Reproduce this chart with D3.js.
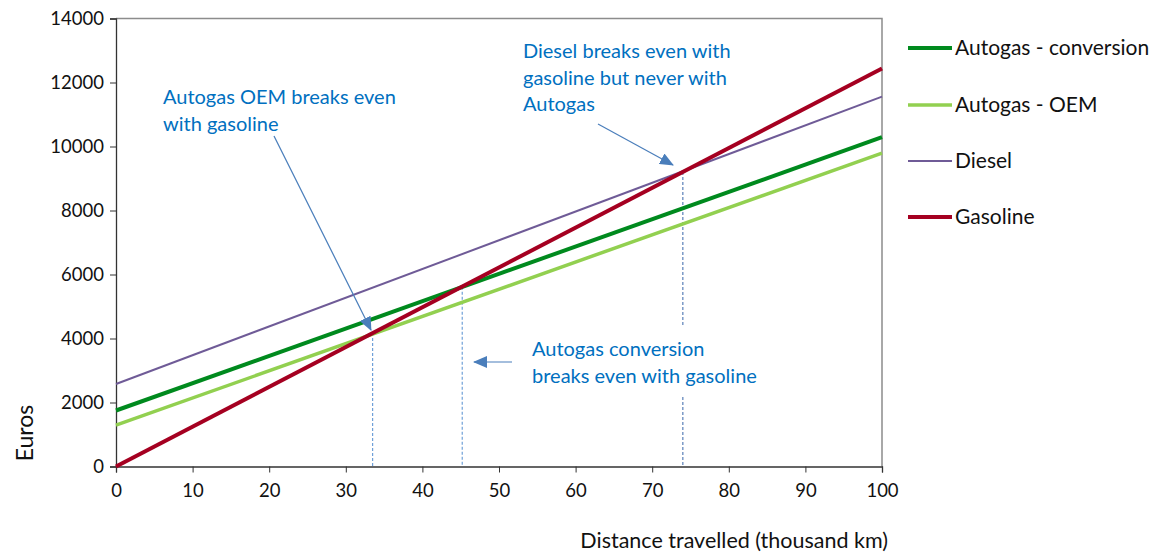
<!DOCTYPE html>
<html><head><meta charset="utf-8">
<script src="https://cdn.jsdelivr.net/npm/d3@7"></script>
<style>body{margin:0;background:#fff}svg{display:block}text{font-family:Lato,"Open Sans",sans-serif}</style>
</head><body><svg id="c" width="1158" height="553"></svg>
<script>
const distances = [0, 100];
const autogasConversion = [1750, 10290];
const autogasOEM = [1290, 9790];
const diesel = [2580, 11560];
const gasoline = [0, 12440];
const seriesNames = ["Autogas - conversion", "Autogas - OEM", "Diesel", "Gasoline"];
const seriesColors = ["#008A1E", "#92D050", "#6F5B97", "#A50021"];
const seriesWidths = [4, 3.5, 2, 4];
const xTicks = [0,10,20,30,40,50,60,70,80,90,100];
const yTicks = [0,2000,4000,6000,8000,10000,12000,14000];
const breakEvens = [33.5, 45.2, 74.0];
const breakEvenValues = [4170, 5620, 9200];

const svg = d3.select("#c");
const x = d3.scaleLinear().domain([0,100]).range([116,882]);
const y = d3.scaleLinear().domain([0,14000]).range([466.5,18.5]);

svg.append("path").attr("d",`M${x(0)},${y(14000)}H${x(100)}V${y(0)}`).attr("fill","none").attr("stroke","#8c8c8c").attr("stroke-width",1.5);

const fs = 18.5;
const yAx = svg.append("g").attr("transform",`translate(${x(0)},0)`).call(d3.axisLeft(y).tickValues(yTicks).tickSize(6).tickPadding(6).tickFormat(d3.format("d")));
const xAx = svg.append("g").attr("transform",`translate(0,${y(0)})`).call(d3.axisBottom(x).tickValues(xTicks).tickSize(6).tickPadding(11));
[yAx,xAx].forEach(g=>{g.attr("font-size",fs).attr("font-family","Lato");g.selectAll("path").attr("stroke","#333").attr("stroke-width",1.3);g.selectAll("line").attr("stroke","#333");g.selectAll("text").attr("fill","#111");});

const dashColors = ["#6FA0D8","#6FA0D8","#5A7FB8"];
const series = [autogasConversion, autogasOEM, diesel, gasoline];
breakEvens.forEach((b,i)=>{
  svg.append("line").attr("x1",x(b)).attr("x2",x(b)).attr("y1",y(breakEvenValues[i])).attr("y2",y(0))
    .attr("stroke",dashColors[i]).attr("stroke-width",1.2).attr("stroke-dasharray","3,2");
});

const line = d3.line().x((d,i)=>x(distances[i])).y(d=>y(d));
series.forEach((s,i)=>{
  svg.append("path").attr("d",line(s)).attr("fill","none").attr("stroke",seriesColors[i]).attr("stroke-width",seriesWidths[i]);
});

const legY = [48,105,161,217];
seriesNames.forEach((n,i)=>{
  svg.append("line").attr("x1",908).attr("x2",952).attr("y1",legY[i]).attr("y2",legY[i]).attr("stroke",seriesColors[i]).attr("stroke-width",seriesWidths[i]);
  svg.append("text").attr("x",955).attr("y",legY[i]).attr("dy","0.35em").attr("font-size",21).attr("fill","#111").text(n);
});

svg.append("text").attr("transform","translate(25,433) rotate(-90)").attr("text-anchor","middle").attr("dy","0.35em").attr("font-size",23).attr("fill","#111").text("Euros");
svg.append("text").attr("x",888).attr("y",540).attr("dy","0.35em").attr("text-anchor","end").attr("font-size",21.5).attr("fill","#111").text("Distance travelled (thousand km)");

const ac = "#0070C0", arrowC = "#4A7EBB";
const defs = svg.append("defs");
defs.append("marker").attr("id","ah").attr("viewBox","0 0 14 12").attr("refX",13).attr("refY",6).attr("markerUnits","userSpaceOnUse").attr("markerWidth",14).attr("markerHeight",12).attr("orient","auto")
  .append("path").attr("d","M0,0L14,6L0,12z").attr("fill",arrowC);

const afs = 20;
function note(lines, xx, y0, lh, bg){
  if(bg){ svg.append("rect").attr("x",bg[0]).attr("y",bg[1]).attr("width",bg[2]).attr("height",bg[3]).attr("fill","#fff"); }
  lines.forEach((t,i)=>svg.append("text").attr("x",xx).attr("y",y0+i*lh).attr("dy","0.35em").attr("font-size",afs).attr("fill",ac).text(t));
}
function arrow(x1,y1,x2,y2){
  svg.append("line").attr("x1",x1).attr("y1",y1).attr("x2",x2).attr("y2",y2).attr("stroke",arrowC).attr("stroke-width",1.2).attr("marker-end","url(#ah)");
}
note(["Autogas OEM breaks even","with gasoline"],163,97,27);
arrow(274,136,371,330);
note(["Diesel breaks even with","gasoline but never with","Autogas"],523,51,26.5);
arrow(598,124,673,165);
note(["Autogas conversion","breaks even with gasoline"],532,349,27,[522,326,250,70]);
arrow(512,362,474,362);
</script></body></html>
